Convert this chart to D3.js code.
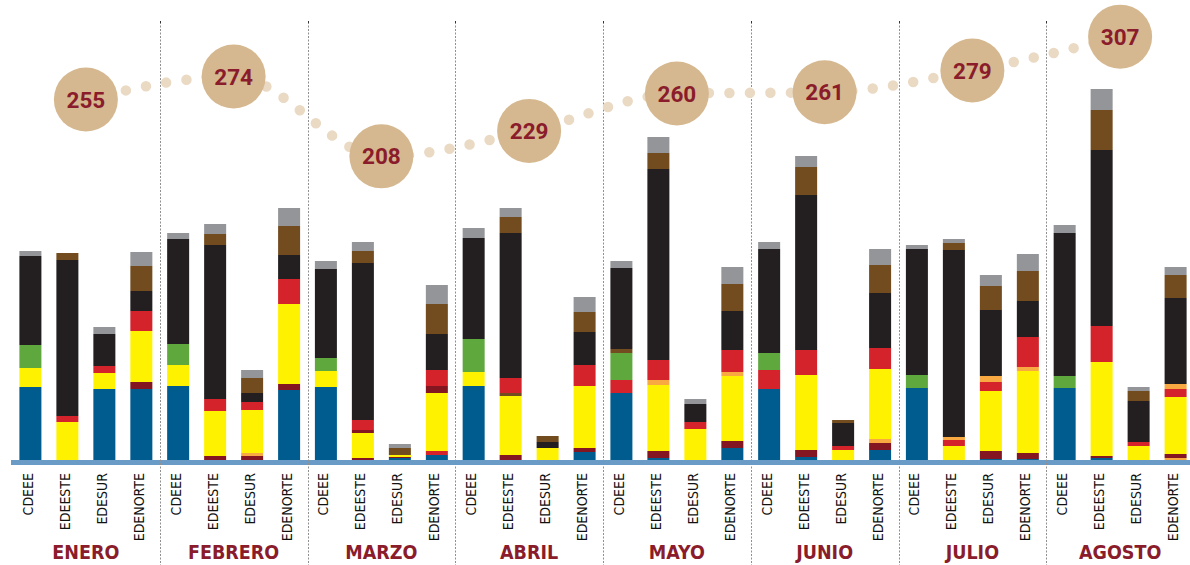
<!DOCTYPE html>
<html>
<head>
<meta charset="utf-8">
<script src="https://cdn.jsdelivr.net/npm/d3@7"></script>
<style>
  html, body { margin: 0; padding: 0; background: #fff; }
  svg { display: block; }
</style>
</head>
<body>
<div id="chart"></div>
<script>
// months and companies
const months = ["ENERO", "FEBRERO", "MARZO", "ABRIL", "MAYO", "JUNIO", "JULIO", "AGOSTO"];
const companies = ["CDEEE", "EDEESTE", "EDESUR", "EDENORTE"];
const totals = [255, 274, 208, 229, 260, 261, 279, 307];

// stacked segments, one value per bar (month x company), bottom to top
const azul      = [73,0,71,71, 74,0,0,70, 73,0,2,5, 74,0,0,8, 67,2,0,12, 71,3,0,10, 72,0,1,1, 72,2,0,0];
const naranjaB  = [0,0,0,0, 0,0,0,0, 0,0,0,0, 0,0,0,0, 0,0,0,0, 0,0,0,0, 0,0,0,0, 0,0,0,2];
const granate   = [0,0,0,7, 0,4,4,6, 0,2,1,0, 0,5,0,4, 0,7,0,7, 0,7,0,7, 0,0,8,6, 0,2,0,4];
const naranjaL  = [0,0,0,0, 0,0,3,0, 0,0,0,0, 0,0,0,0, 0,0,0,0, 0,0,0,4, 0,0,0,0, 0,0,0,0];
const rojoL     = [0,0,0,0, 0,0,0,0, 0,0,0,4, 0,0,0,0, 0,0,0,0, 0,0,0,0, 0,0,0,0, 0,0,0,0];
const amarillo  = [19,38,16,51, 21,45,43,80, 16,25,2,58, 14,59,12,62, 0,66,31,65, 0,75,10,70, 0,14,60,82, 0,94,14,57];
const granate2  = [0,0,0,0, 0,0,0,0, 0,3,0,7, 0,0,0,0, 0,0,0,0, 0,0,0,0, 0,0,0,0, 0,0,0,0];
const marronL   = [0,0,0,0, 0,0,0,0, 0,0,0,0, 0,3,0,0, 0,0,0,0, 0,0,0,0, 0,0,0,0, 0,0,0,0];
const naranjaM  = [0,0,0,0, 0,0,0,0, 0,0,0,0, 0,0,0,0, 0,5,0,4, 0,0,0,0, 0,0,0,4, 0,0,0,0];
const rojo      = [0,6,7,20, 0,12,8,25, 0,10,0,16, 0,15,0,21, 13,20,7,22, 19,25,4,21, 0,6,9,30, 0,36,4,8];
const naranjaH  = [0,0,0,0, 0,0,0,0, 0,0,0,0, 0,0,0,0, 0,0,0,0, 0,0,0,0, 0,3,6,0, 0,0,0,5];
const verde     = [23,0,0,0, 21,0,0,0, 13,0,0,0, 33,0,0,0, 27,0,0,0, 17,0,0,0, 13,0,0,0, 12,0,0,0];
const marronM   = [0,0,0,0, 0,0,0,0, 0,0,0,0, 0,0,0,0, 4,0,0,0, 0,0,0,0, 0,0,0,0, 0,0,0,0];
const negro     = [89,156,32,20, 105,154,9,24, 89,157,0,36, 101,145,6,33, 81,191,18,39, 104,155,23,55, 126,187,66,36, 143,176,41,86];
const marron    = [0,7,0,25, 0,11,15,29, 0,12,7,30, 0,16,6,20, 0,16,0,27, 0,28,3,28, 0,7,24,30, 0,40,10,23];
const gris      = [5,0,7,14, 6,10,8,18, 8,9,4,19, 10,9,0,15, 7,16,5,17, 7,11,0,16, 4,4,11,17, 8,21,4,8];

const C = {
  azul: "#005b8e", granate: "#841622", naranja: "#f8a941", amarillo: "#fff200",
  rojo: "#d4232b", verde: "#5ea83e", negro: "#231f20", marron: "#724c1e", gris: "#939598"
};
const series = [
  { key: "azul", values: azul, color: C.azul },
  { key: "naranjaB", values: naranjaB, color: C.naranja },
  { key: "granate", values: granate, color: C.granate },
  { key: "naranjaL", values: naranjaL, color: C.naranja },
  { key: "rojoL", values: rojoL, color: C.rojo },
  { key: "amarillo", values: amarillo, color: C.amarillo },
  { key: "granate2", values: granate2, color: C.granate },
  { key: "marronL", values: marronL, color: C.marron },
  { key: "naranjaM", values: naranjaM, color: C.naranja },
  { key: "rojo", values: rojo, color: C.rojo },
  { key: "naranjaH", values: naranjaH, color: C.naranja },
  { key: "verde", values: verde, color: C.verde },
  { key: "marronM", values: marronM, color: C.marron },
  { key: "negro", values: negro, color: C.negro },
  { key: "marron", values: marron, color: C.marron },
  { key: "gris", values: gris, color: C.gris }
];

const width = 1190, height = 565;
const baseY = 460;

// bar rows for d3.stack
const rows = [];
months.forEach((m, i) => companies.forEach((c, j) => {
  const r = { month: m, company: c };
  series.forEach(s => { r[s.key] = s.values[i * 4 + j]; });
  rows.push(r);
}));

const x0 = d3.scaleBand().domain(months).range([12, 1194]).padding(0);
const x1 = d3.scaleBand().domain(companies).range([0, x0.bandwidth()])
  .paddingInner(0.405).paddingOuter(0.2);
const y = d3.scaleLinear().domain([0, 400]).range([baseY, baseY - 400]);
const yT = d3.scaleLinear().domain([200, 310]).range([166, 33]);

const stacked = d3.stack().keys(series.map(s => s.key))(rows);

const svg = d3.select("#chart").append("svg").attr("width", width).attr("height", height);

// baseline
svg.append("rect")
  .attr("x", 11).attr("y", baseY).attr("width", width - 11).attr("height", 5)
  .attr("fill", "#6a9bc6");

// month separators
const seps = svg.append("g");
months.slice(1).forEach(m => {
  const sx = Math.round(x0(m)) + 0.5;
  seps.append("line")
    .attr("x1", sx).attr("x2", sx).attr("y1", 22).attr("y2", height)
    .attr("stroke", "#8f8f8f").attr("stroke-width", 1).attr("stroke-dasharray", "2,1.5");
  seps.append("rect").attr("x", sx - 0.5).attr("y", 21).attr("width", 1).attr("height", 2).attr("fill", "#333");
});

// bars
const barX = d => x0(d.data.month) + x1(d.data.company);
svg.append("g").selectAll("g")
  .data(stacked)
  .join("g")
  .attr("fill", (d, i) => series[i].color)
  .selectAll("rect")
  .data(d => d.filter(p => p[1] - p[0] > 0))
  .join("rect")
  .attr("x", barX)
  .attr("width", x1.bandwidth())
  .attr("y", d => y(d[1]))
  .attr("height", d => y(d[0]) - y(d[1]));

// company labels (rotated)
const lab = svg.append("g")
  .style("font-family", "'Liberation Sans Narrow', 'DejaVu Sans Condensed', sans-serif")
  .style("font-size", "14px").attr("fill", "#111");
rows.forEach(r => {
  const cx = x0(r.month) + x1(r.company) + x1.bandwidth() / 2 + 2.5;
  lab.append("text")
    .attr("transform", `translate(${cx},473) rotate(-90)`)
    .attr("text-anchor", "end")
    .text(r.company);
});

// month labels
svg.append("g").selectAll("text")
  .data(months)
  .join("text")
  .attr("x", d => x0(d) + x0.bandwidth() / 2)
  .attr("y", 559)
  .attr("text-anchor", "middle")
  .style("font-family", "'Liberation Sans Narrow', 'DejaVu Sans Condensed', sans-serif")
  .style("font-weight", "bold")
  .style("font-size", "19.5px")
  .attr("fill", "#8a1c2b")
  .text(d => d);

// dotted trend line through totals
const pts = months.map((m, i) => [x0(m) + x0.bandwidth() / 2, yT(totals[i])]);
svg.append("path")
  .attr("d", d3.line().curve(d3.curveMonotoneX)(pts))
  .attr("fill", "none")
  .attr("stroke", "#ead9c3")
  .attr("stroke-width", 10.5)
  .attr("stroke-linecap", "round")
  .attr("stroke-dasharray", "0 20.5");

// bubbles
const bub = svg.append("g").selectAll("g")
  .data(pts)
  .join("g")
  .attr("transform", d => `translate(${d[0]},${d[1]})`);
bub.append("circle").attr("r", 32).attr("fill", "#d5b88f");
bub.append("text")
  .attr("text-anchor", "middle")
  .attr("dy", "0.36em")
  .style("font-family", "Roboto, sans-serif")
  .style("font-weight", "bold")
  .style("font-size", "22.5px")
  .attr("fill", "#8a1c2b")
  .text((d, i) => totals[i]);
</script>
</body>
</html>
